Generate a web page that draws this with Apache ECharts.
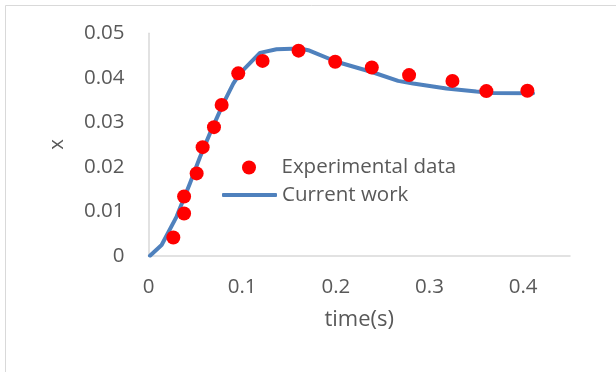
<!DOCTYPE html>
<html>
<head>
<meta charset="utf-8">
<script src="https://cdn.jsdelivr.net/npm/echarts@6/dist/echarts.min.js"></script>
<style>html,body{margin:0;padding:0;background:#fff}#c{width:616px;height:372px}</style>
</head>
<body>
<div id="c"></div>
<script>
// Experimental data (time s, x)
const expTime = [0.0265, 0.038, 0.038, 0.0514, 0.0578, 0.0699, 0.0781, 0.0958, 0.1218, 0.1602, 0.1993, 0.2384, 0.2782, 0.3245, 0.3607, 0.4045];
const expX    = [0.0041, 0.0095, 0.0133, 0.0185, 0.0244, 0.0289, 0.0339, 0.0410, 0.0438, 0.0461, 0.0436, 0.0423, 0.0406, 0.0393, 0.0370, 0.0371];
// Current work curve
const curTime = [0.0016, 0.014, 0.030, 0.0443, 0.055, 0.0656, 0.0798, 0.0905, 0.0976, 0.119, 0.1367, 0.1616, 0.1705, 0.2007, 0.2384, 0.2665, 0.2825, 0.318, 0.350, 0.368, 0.4105];
const curX    = [0.0, 0.0024, 0.0088, 0.0163, 0.0222, 0.0275, 0.0342, 0.0387, 0.0410, 0.0456, 0.0464, 0.0466, 0.0462, 0.0436, 0.0413, 0.0393, 0.0387, 0.0376, 0.0369, 0.0366, 0.0365];
const seriesNames = ['Experimental data', 'Current work'];
const xTicks = [0, 0.1, 0.2, 0.3, 0.4];
const yTicks = [0, 0.01, 0.02, 0.03, 0.04, 0.05];

const FONT = 'Open Sans';
const TXT = '#595959';
const BLUE = '#4f81bd';
const RED = '#ff0000';
const legendText = {fontFamily: FONT, fontSize: 20.5, color: TXT};
const chart = echarts.init(document.getElementById('c'), null, {renderer: 'canvas'});
chart.setOption({
  animation: false,
  backgroundColor: '#fff',
  textStyle: {fontFamily: FONT, color: TXT},
  graphic: [{
    type: 'rect', silent: true, z: -10,
    shape: {x: 5.5, y: 5.5, width: 700, height: 500},
    style: {fill: 'none', stroke: '#d9d9d9', lineWidth: 1}
  }],
  grid: {left: 148.5, right: 46, top: 33.3, bottom: 116.3, containLabel: false},
  legend: [
    {
      orient: 'vertical', left: 242, top: 157, padding: 0,
      itemWidth: 55, itemHeight: 14,
      textStyle: legendText,
      data: [{name: seriesNames[0], icon: 'circle'}]
    },
    {
      orient: 'vertical', left: 222, top: 184.5, padding: 0,
      itemWidth: 55, itemHeight: 4,
      textStyle: legendText,
      data: [{name: seriesNames[1], icon: 'roundRect', itemStyle: {color: BLUE}}]
    }
  ],
  xAxis: {
    type: 'value', min: 0, max: 0.45, interval: 0.1,
    name: 'time(s)', nameLocation: 'middle', nameGap: 53,
    nameTextStyle: {fontFamily: FONT, fontSize: 22, color: TXT},
    axisLine: {show: true, lineStyle: {color: '#d9d9d9', width: 1.5}},
    axisTick: {show: false},
    splitLine: {show: false},
    axisLabel: {
      fontFamily: FONT, fontSize: 20.5, color: TXT, margin: 21,
      formatter: v => { const t = xTicks.find(k => Math.abs(k - v) < 1e-9); return t === undefined ? '' : String(t); }
    }
  },
  yAxis: {
    type: 'value', min: 0, max: 0.05, interval: 0.01,
    name: 'x', nameLocation: 'middle', nameGap: 81, nameRotate: 90,
    nameTextStyle: {fontFamily: FONT, fontSize: 20.5, color: TXT},
    axisLine: {show: true, lineStyle: {color: '#d9d9d9', width: 1.5}},
    axisTick: {show: false},
    splitLine: {show: false},
    axisLabel: {
      fontFamily: FONT, fontSize: 20.5, color: TXT, margin: 24,
      formatter: v => { const t = yTicks.find(k => Math.abs(k - v) < 1e-9); return t === undefined ? '' : String(t); }
    }
  },
  series: [
    {
      name: seriesNames[1], type: 'line', z: 2,
      data: curTime.map((t, i) => [t, curX[i]]),
      showSymbol: false, symbol: 'none',
      lineStyle: {color: BLUE, width: 4, cap: 'round', join: 'round'},
      itemStyle: {color: BLUE}
    },
    {
      name: seriesNames[0], type: 'scatter', z: 3,
      data: expTime.map((t, i) => [t, expX[i]]),
      symbol: 'circle', symbolSize: 14,
      itemStyle: {color: RED, opacity: 1}
    }
  ]
});
</script>
</body>
</html>
